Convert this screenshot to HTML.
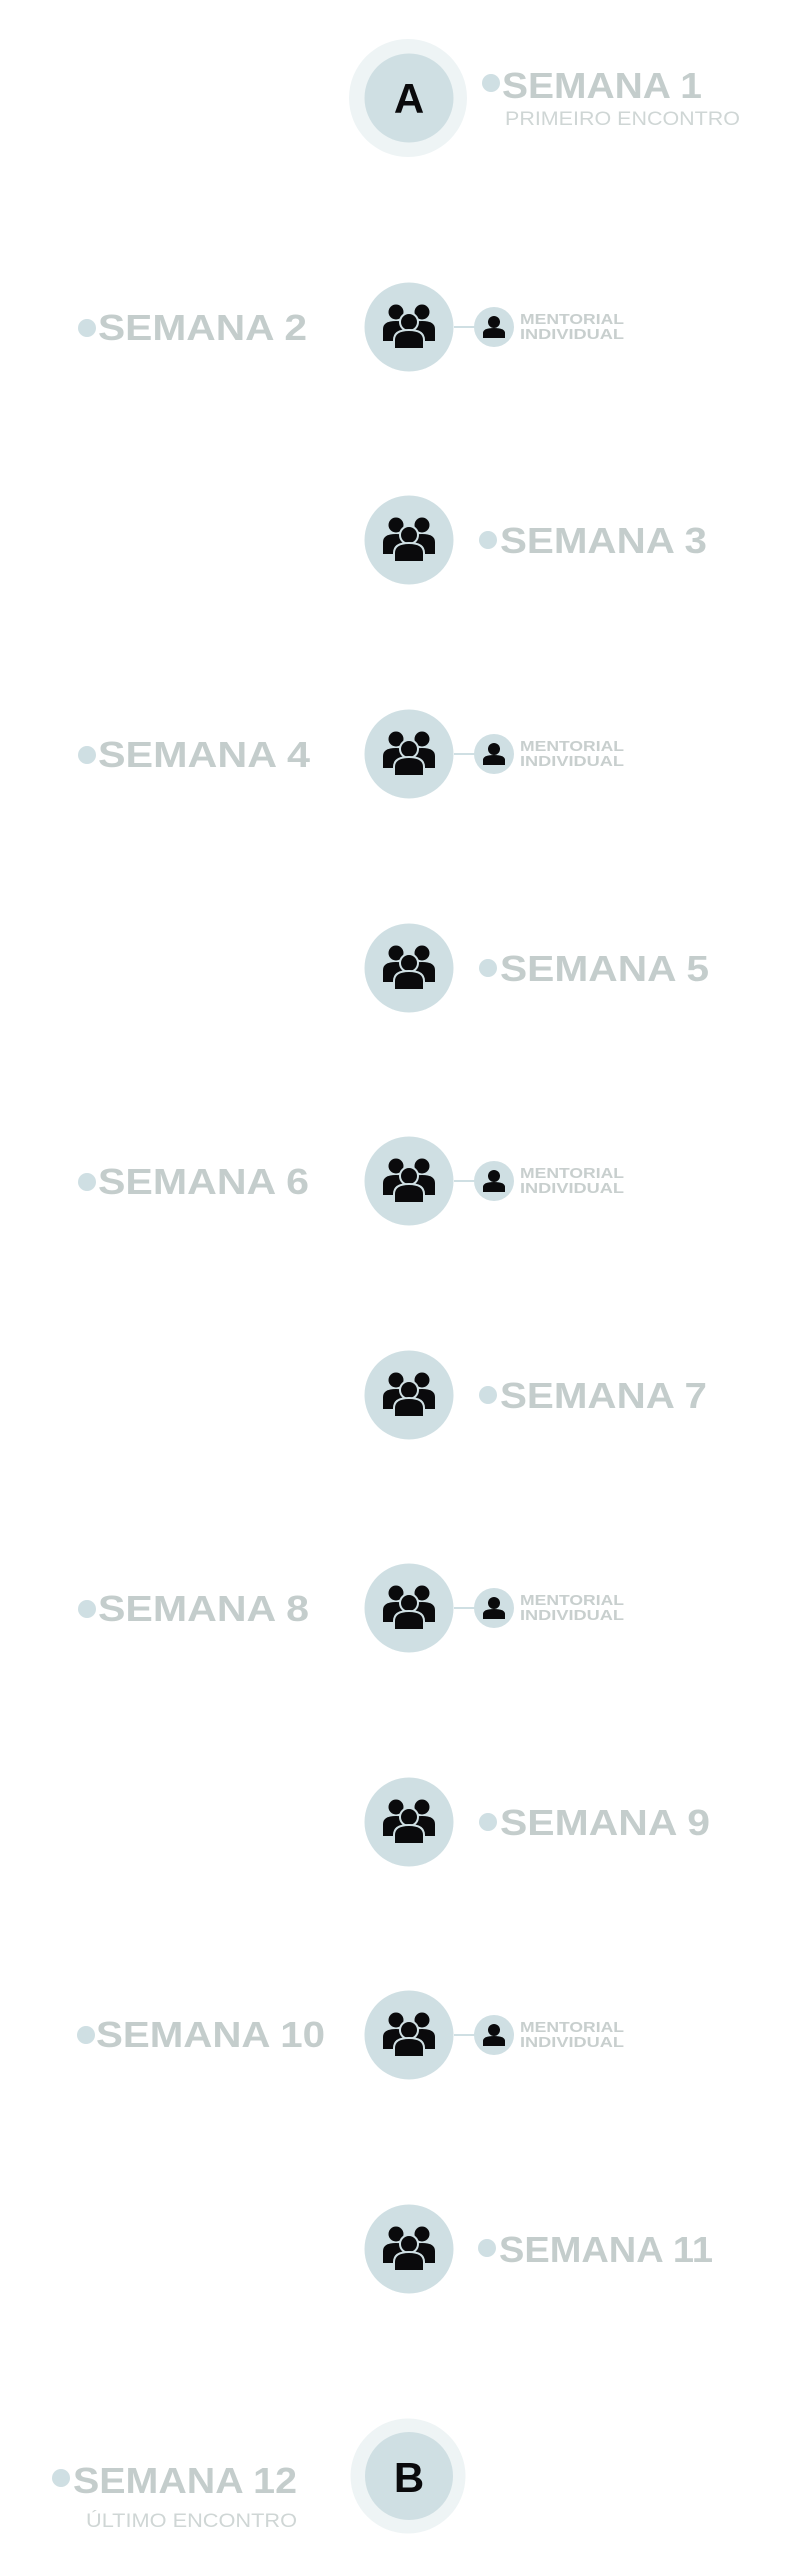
<!DOCTYPE html>
<html><head><meta charset="utf-8"><style>html,body{margin:0;padding:0;background:#fff}svg{display:block}</style></head>
<body>
<svg width="788" height="2560" viewBox="0 0 788 2560" xmlns="http://www.w3.org/2000/svg" font-family="'Liberation Sans', sans-serif">
<defs>
<g id="grp">
  <circle cx="-13" cy="-15" r="7.5" fill="#0a0a0c"/>
  <circle cx="13" cy="-15" r="7.5" fill="#0a0a0c"/>
  <path d="M-26 14 L-26 2 Q-26 -6 -13 -6 Q0 -6 0 2 L0 14 Z" fill="#0a0a0c"/>
  <path d="M0 14 L0 2 Q0 -6 13 -6 Q26 -6 26 2 L26 14 Z" fill="#0a0a0c"/>
  <circle cx="0" cy="-5" r="9" fill="#0a0a0c" stroke="#cfdfe3" stroke-width="2"/>
  <path d="M-15 22 L-15 13 Q-15 3 0 3 Q15 3 15 13 L15 22 Z" fill="#0a0a0c" stroke="#cfdfe3" stroke-width="2"/>
</g>
<g id="one">
  <circle cx="0" cy="-5" r="6" fill="#0a0a0c"/>
  <path d="M-11 11 L-11 6 Q-11 1 0 1 Q11 1 11 6 L11 11 Z" fill="#0a0a0c"/>
</g>
</defs>

<!-- Row 1 -->
<circle cx="408" cy="98" r="59" fill="#eef4f5"/>
<circle cx="409" cy="98" r="44.5" fill="#cfdfe3"/>
<text x="409" y="113" text-anchor="middle" font-size="42" font-weight="bold" fill="#0a0a0c">A</text>
<circle cx="491" cy="83" r="9" fill="#cfdfe3"/>
<text x="502" y="98" font-size="36" font-weight="bold" fill="#c4cdcc" textLength="200" lengthAdjust="spacingAndGlyphs">SEMANA 1</text>
<text x="505" y="125" font-size="19" fill="#cfd6d5" textLength="235" lengthAdjust="spacingAndGlyphs">PRIMEIRO ENCONTRO</text>

<!-- Rows with mentorial: 2,4,6,8,10 -->
<g>
<line x1="454" y1="327" x2="476" y2="327" stroke="#cfdfe3" stroke-width="2"/>
<circle cx="409" cy="327" r="44.5" fill="#cfdfe3"/><use href="#grp" x="409" y="327"/>
<circle cx="494" cy="327" r="20" fill="#cfdfe3"/><use href="#one" x="494" y="327"/>
<text x="520" y="324" font-size="15" font-weight="bold" fill="#c8cfce" textLength="104" lengthAdjust="spacingAndGlyphs">MENTORIAL</text>
<text x="520" y="339" font-size="15" font-weight="bold" fill="#c8cfce" textLength="104" lengthAdjust="spacingAndGlyphs">INDIVIDUAL</text>
<circle cx="87" cy="328" r="9" fill="#cfdfe3"/>
<text x="98" y="340" font-size="36" font-weight="bold" fill="#c4cdcc" textLength="209" lengthAdjust="spacingAndGlyphs">SEMANA 2</text>
</g>
<g>
<line x1="454" y1="754" x2="476" y2="754" stroke="#cfdfe3" stroke-width="2"/>
<circle cx="409" cy="754" r="44.5" fill="#cfdfe3"/><use href="#grp" x="409" y="754"/>
<circle cx="494" cy="754" r="20" fill="#cfdfe3"/><use href="#one" x="494" y="754"/>
<text x="520" y="751" font-size="15" font-weight="bold" fill="#c8cfce" textLength="104" lengthAdjust="spacingAndGlyphs">MENTORIAL</text>
<text x="520" y="766" font-size="15" font-weight="bold" fill="#c8cfce" textLength="104" lengthAdjust="spacingAndGlyphs">INDIVIDUAL</text>
<circle cx="87" cy="755" r="9" fill="#cfdfe3"/>
<text x="98" y="767" font-size="36" font-weight="bold" fill="#c4cdcc" textLength="212" lengthAdjust="spacingAndGlyphs">SEMANA 4</text>
</g>
<g>
<line x1="454" y1="1181" x2="476" y2="1181" stroke="#cfdfe3" stroke-width="2"/>
<circle cx="409" cy="1181" r="44.5" fill="#cfdfe3"/><use href="#grp" x="409" y="1181"/>
<circle cx="494" cy="1181" r="20" fill="#cfdfe3"/><use href="#one" x="494" y="1181"/>
<text x="520" y="1178" font-size="15" font-weight="bold" fill="#c8cfce" textLength="104" lengthAdjust="spacingAndGlyphs">MENTORIAL</text>
<text x="520" y="1193" font-size="15" font-weight="bold" fill="#c8cfce" textLength="104" lengthAdjust="spacingAndGlyphs">INDIVIDUAL</text>
<circle cx="87" cy="1182" r="9" fill="#cfdfe3"/>
<text x="98" y="1194" font-size="36" font-weight="bold" fill="#c4cdcc" textLength="211" lengthAdjust="spacingAndGlyphs">SEMANA 6</text>
</g>
<g>
<line x1="454" y1="1608" x2="476" y2="1608" stroke="#cfdfe3" stroke-width="2"/>
<circle cx="409" cy="1608" r="44.5" fill="#cfdfe3"/><use href="#grp" x="409" y="1608"/>
<circle cx="494" cy="1608" r="20" fill="#cfdfe3"/><use href="#one" x="494" y="1608"/>
<text x="520" y="1605" font-size="15" font-weight="bold" fill="#c8cfce" textLength="104" lengthAdjust="spacingAndGlyphs">MENTORIAL</text>
<text x="520" y="1620" font-size="15" font-weight="bold" fill="#c8cfce" textLength="104" lengthAdjust="spacingAndGlyphs">INDIVIDUAL</text>
<circle cx="87" cy="1609" r="9" fill="#cfdfe3"/>
<text x="98" y="1621" font-size="36" font-weight="bold" fill="#c4cdcc" textLength="211" lengthAdjust="spacingAndGlyphs">SEMANA 8</text>
</g>
<g>
<line x1="454" y1="2035" x2="476" y2="2035" stroke="#cfdfe3" stroke-width="2"/>
<circle cx="409" cy="2035" r="44.5" fill="#cfdfe3"/><use href="#grp" x="409" y="2035"/>
<circle cx="494" cy="2035" r="20" fill="#cfdfe3"/><use href="#one" x="494" y="2035"/>
<text x="520" y="2032" font-size="15" font-weight="bold" fill="#c8cfce" textLength="104" lengthAdjust="spacingAndGlyphs">MENTORIAL</text>
<text x="520" y="2047" font-size="15" font-weight="bold" fill="#c8cfce" textLength="104" lengthAdjust="spacingAndGlyphs">INDIVIDUAL</text>
<circle cx="86" cy="2035" r="9" fill="#cfdfe3"/>
<text x="96" y="2047" font-size="36" font-weight="bold" fill="#c4cdcc" textLength="229" lengthAdjust="spacingAndGlyphs">SEMANA 10</text>
</g>

<!-- Right rows: 3,5,7,9,11 -->
<g>
<circle cx="409" cy="540" r="44.5" fill="#cfdfe3"/><use href="#grp" x="409" y="540"/>
<circle cx="488" cy="540" r="9" fill="#cfdfe3"/>
<text x="500" y="553" font-size="36" font-weight="bold" fill="#c4cdcc" textLength="207" lengthAdjust="spacingAndGlyphs">SEMANA 3</text>
</g>
<g>
<circle cx="409" cy="968" r="44.5" fill="#cfdfe3"/><use href="#grp" x="409" y="968"/>
<circle cx="488" cy="968" r="9" fill="#cfdfe3"/>
<text x="500" y="981" font-size="36" font-weight="bold" fill="#c4cdcc" textLength="209" lengthAdjust="spacingAndGlyphs">SEMANA 5</text>
</g>
<g>
<circle cx="409" cy="1395" r="44.5" fill="#cfdfe3"/><use href="#grp" x="409" y="1395"/>
<circle cx="488" cy="1395" r="9" fill="#cfdfe3"/>
<text x="500" y="1408" font-size="36" font-weight="bold" fill="#c4cdcc" textLength="207" lengthAdjust="spacingAndGlyphs">SEMANA 7</text>
</g>
<g>
<circle cx="409" cy="1822" r="44.5" fill="#cfdfe3"/><use href="#grp" x="409" y="1822"/>
<circle cx="488" cy="1822" r="9" fill="#cfdfe3"/>
<text x="500" y="1835" font-size="36" font-weight="bold" fill="#c4cdcc" textLength="210" lengthAdjust="spacingAndGlyphs">SEMANA 9</text>
</g>
<g>
<circle cx="409" cy="2249" r="44.5" fill="#cfdfe3"/><use href="#grp" x="409" y="2249"/>
<circle cx="487" cy="2248" r="9" fill="#cfdfe3"/>
<text x="499" y="2262" font-size="36" font-weight="bold" fill="#c4cdcc" textLength="214" lengthAdjust="spacingAndGlyphs">SEMANA 11</text>
</g>

<!-- Row 12 -->
<circle cx="408" cy="2476" r="57.5" fill="#eef4f5"/>
<circle cx="409" cy="2476" r="44" fill="#cfdfe3"/>
<text x="409" y="2492" text-anchor="middle" font-size="42" font-weight="bold" fill="#0a0a0c">B</text>
<circle cx="61" cy="2478" r="9" fill="#cfdfe3"/>
<text x="73" y="2493" font-size="36" font-weight="bold" fill="#c4cdcc" textLength="224" lengthAdjust="spacingAndGlyphs">SEMANA 12</text>
<text x="86" y="2527" font-size="19" fill="#cfd6d5" textLength="211" lengthAdjust="spacingAndGlyphs">ÚLTIMO ENCONTRO</text>
</svg>
</body></html>
